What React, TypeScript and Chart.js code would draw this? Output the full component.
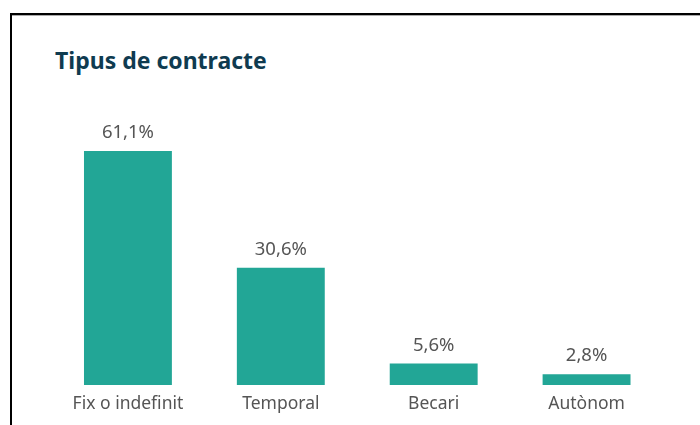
import React, { useEffect, useRef } from "react";
import { Chart, registerables } from "chart.js";

Chart.register(...registerables);

const categories = ["Fix o indefinit", "Temporal", "Becari", "Autònom"];
const values = [61.1, 30.6, 5.6, 2.8];
const valueLabels = ["61,1%", "30,6%", "5,6%", "2,8%"];
const title = "Tipus de contracte";

const FONT = "'Noto Sans', 'Open Sans', sans-serif";

const valuePlugin = {
  id: "valueLabels",
  afterDatasetsDraw(chart: any) {
    const ctx = chart.ctx;
    const meta = chart.getDatasetMeta(0);
    ctx.save();
    ctx.font = `18.5px ${FONT}`;
    ctx.fillStyle = "#555555";
    ctx.textAlign = "center";
    ctx.textBaseline = "alphabetic";
    meta.data.forEach((bar: any, i: number) => {
      ctx.fillText(valueLabels[i], bar.x, bar.y - 13);
    });
    ctx.restore();
  },
};

export default function App() {
  const ref = useRef<HTMLCanvasElement | null>(null);
  useEffect(() => {
    document.body.style.margin = "0";
    const c = new Chart(ref.current as HTMLCanvasElement, {
      type: "bar",
      data: {
        labels: categories,
        datasets: [
          {
            data: values,
            backgroundColor: "#22a696",
            borderWidth: 0,
            categoryPercentage: 1,
            barPercentage: 0.575,
          },
        ],
      },
      options: {
        animation: false,
        responsive: false,
        maintainAspectRatio: false,
        layout: { padding: { left: 51.5, right: 37, top: 117, bottom: 1 } },
        plugins: { legend: { display: false }, tooltip: { enabled: false } },
        scales: {
          x: {
            grid: { display: false, drawTicks: false },
            border: { display: false },
            ticks: {
              padding: 9,
              color: "#555555",
              font: { family: FONT, size: 17.5 },
              maxRotation: 0,
            },
          },
          y: { display: false, min: 0, max: 70 },
        },
      },
      plugins: [valuePlugin],
    });
    return () => c.destroy();
  }, []);
  return (
    <div style={{ position: "relative", width: 700, height: 425, background: "#fff", overflow: "hidden" }}>
      <div style={{ position: "absolute", left: 10, top: 13, width: 690, height: 2, background: "#000" }} />
      <div style={{ position: "absolute", left: 10, top: 15, width: 690, height: 1, background: "#aaa" }} />
      <div style={{ position: "absolute", left: 10, top: 13, width: 2, height: 412, background: "#000" }} />
      <div
        style={{
          position: "absolute",
          left: 55,
          top: 45,
          fontFamily: FONT,
          fontWeight: 700,
          fontSize: 23,
          color: "#0f3b50",
          whiteSpace: "nowrap",
          lineHeight: "30px",
        }}
      >
        {title}
      </div>
      <canvas ref={ref} width={700} height={425} style={{ position: "absolute", left: 0, top: 0 }} />
    </div>
  );
}
